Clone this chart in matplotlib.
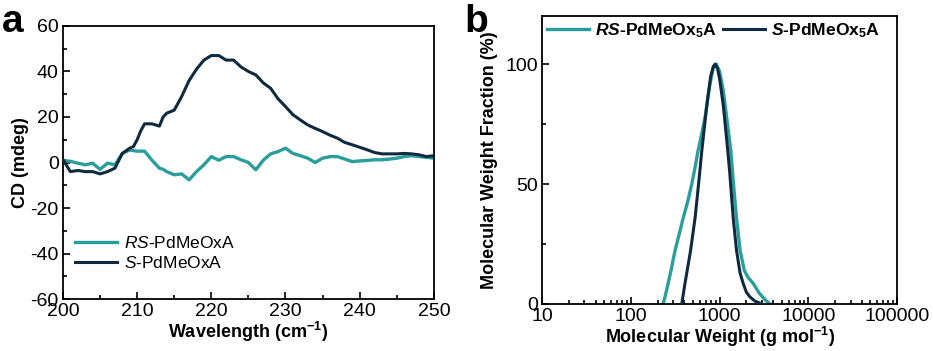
import matplotlib
matplotlib.use("Agg")
import matplotlib.pyplot as plt
import numpy as np
from matplotlib.ticker import MultipleLocator, LogLocator, NullFormatter, FixedLocator

plt.rcParams['font.family'] = ['Liberation Sans', 'DejaVu Sans']
plt.rcParams['mathtext.fontset'] = 'custom'
plt.rcParams['mathtext.rm'] = 'Liberation Sans'
plt.rcParams['mathtext.it'] = 'Liberation Sans:italic'
plt.rcParams['mathtext.bf'] = 'Liberation Sans:bold'
plt.rcParams['mathtext.bfit'] = 'Liberation Sans:bold:italic'
plt.rcParams['axes.unicode_minus'] = False

TEAL = '#2a9e9b'
NAVY = '#0f2a3f'

# ---------------- Panel a data (CD spectra) ----------------
wavelength = [200, 201, 202, 203, 204, 205, 206, 207, 208, 209, 209.5, 210, 210.5, 211, 212, 213,
              213.5, 214, 215, 216, 217, 218, 219, 220, 221, 222, 223, 224, 225, 226, 227, 228,
              229, 230, 231, 232, 233, 234, 235, 236, 237, 238, 239, 240, 241, 242, 243, 244,
              245, 246, 247, 248, 249, 250]
cd_s = [1.2, -4, -3.5, -4, -4, -5, -4, -2.5, 4, 6.3, 7, 10, 14, 17, 17, 16,
        20, 21.7, 23, 29, 36, 41, 45, 47, 47, 45, 45, 42, 40, 38.5, 35, 32.6,
        28, 24.6, 21, 18.7, 16.5, 15, 13.6, 12, 10.7, 8.8, 7.8, 6.7, 5.6, 4.4, 3.8, 3.8,
        3.8, 4, 3.8, 3.4, 2.6, 3]
cd_rs = [1, 0.5, -0.3, -1, -0.3, -3, -0.3, -1, 4, 5.5, 5.2, 5, 5, 5, 1, -2.5,
         -3, -4, -5.4, -5, -7.6, -4, -1, 2.6, 1, 2.6, 2.6, 1.2, 0, -3.2, 1, 3.8,
         4.8, 6.3, 4, 3, 1.9, 0, 1.9, 2.6, 2.6, 1.5, 0.4, 0.7, 0.9, 1.2, 1.2, 1.5,
         1.9, 2.6, 3, 2.6, 2.3, 1.9]

# ---------------- Panel b data (MW distributions) ----------------
mw_rs = [231, 243, 280, 316, 350, 390, 440, 486, 530, 573, 630, 687, 740, 782, 850, 920,
         1000, 1100, 1200, 1337, 1450, 1550, 1700, 1900, 2100, 2380, 2800, 3300, 3720]
frac_rs = [0, 3, 13, 22.5, 29, 36, 43, 50, 57, 64, 71, 78, 86, 92, 98.5, 100,
           97, 89, 78, 64, 48, 36, 22.5, 14, 11, 8.7, 4.5, 1.5, 0]
mw_s = [375, 408, 470, 530, 580, 631, 680, 730, 795, 850, 890, 950, 1000, 1100, 1236,
        1300, 1423, 1550, 1700, 1840, 2000, 2190, 2500, 3000]
frac_s = [0, 8.7, 22, 36, 50, 64, 75, 85, 95, 99, 100, 98, 94, 83, 64,
          55, 36, 22.5, 13, 8.7, 5, 3, 1.2, 0]

fig = plt.figure(figsize=(9.33, 3.51), dpi=100)

# ---------------- Panel a ----------------
axa = fig.add_axes([0.0675, 0.148, 0.3975, 0.778])
axa.plot(wavelength, cd_rs, color=TEAL, lw=2.4, label=r'$\mathit{RS}$-PdMeOxA', zorder=2)
axa.plot(wavelength, cd_s, color=NAVY, lw=2.2, label=r'$\mathit{S}$-PdMeOxA', zorder=3)
axa.set_xlim(200, 250)
axa.set_ylim(-60, 60)
axa.xaxis.set_major_locator(MultipleLocator(10))
axa.xaxis.set_minor_locator(MultipleLocator(5))
axa.yaxis.set_major_locator(MultipleLocator(20))
axa.yaxis.set_minor_locator(MultipleLocator(10))
axa.set_xlabel(r'Wavelength (cm$^{\mathregular{-1}}$)', fontsize=13, fontweight='bold', labelpad=0)
axa.set_ylabel('CD (mdeg)', fontsize=13, fontweight='bold', labelpad=1)
leg = axa.legend(loc='lower left', bbox_to_anchor=(0.0, 0.058), frameon=False, fontsize=12.5,
                 handlelength=2.4, handletextpad=0.4, labelspacing=0.25, borderaxespad=0.3)
axa.text(-0.165, 0.978, 'a', transform=axa.transAxes, fontsize=28, fontweight='bold',
         ha='left', va='baseline')

# ---------------- Panel b ----------------
axb = fig.add_axes([0.581, 0.134, 0.3805, 0.820])
axb.plot(mw_rs, frac_rs, color=TEAL, lw=2.4, label=r'$\mathbfit{RS}$-PdMeOx$_{\mathbf{5}}$A', zorder=2)
axb.plot(mw_s, frac_s, color=NAVY, lw=2.2, label=r'$\mathbfit{S}$-PdMeOx$_{\mathbf{5}}$A', zorder=3)
axb.set_xscale('log')
axb.set_xlim(10, 100000)
axb.set_ylim(0, 120)
axb.xaxis.set_major_locator(FixedLocator([10, 100, 1000, 10000, 100000]))
axb.set_xticklabels(['10', '100', '1000', '10000', '100000'])
axb.xaxis.set_minor_locator(LogLocator(base=10, subs=np.arange(2, 10)))
axb.xaxis.set_minor_formatter(NullFormatter())
axb.yaxis.set_major_locator(FixedLocator([0, 50, 100]))
axb.yaxis.set_minor_locator(FixedLocator([25, 75]))
axb.set_xlabel(r'Molecular Weight (g mol$^{\mathregular{-1}}$)', fontsize=13, fontweight='bold', labelpad=0)
axb.set_ylabel('Molecular Weight Fraction (%)', fontsize=13, fontweight='bold', labelpad=5)
axb.legend(loc='upper left', bbox_to_anchor=(-0.02, 1.025), ncol=2, frameon=False,
           prop={'size': 12.6, 'weight': 'bold'}, handlelength=2.4, handletextpad=0.35,
           columnspacing=0.35, borderaxespad=0.3)
axb.text(-0.22, 0.944, 'b', transform=axb.transAxes, fontsize=28, fontweight='bold',
         ha='left', va='baseline')

for ax in (axa, axb):
    for s in ax.spines.values():
        s.set_linewidth(1.3)
        s.set_color('black')
    ax.tick_params(which='both', direction='in', top=False, right=False, labelsize=14, width=1.2)
    ax.tick_params(which='major', length=5, pad=3)
    ax.tick_params(which='minor', length=3)

fig.savefig('out.png', dpi=100)
